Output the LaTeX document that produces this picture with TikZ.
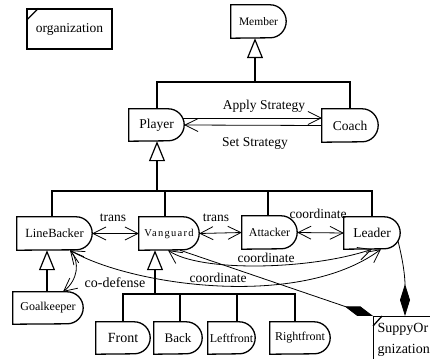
\documentclass[tikz,border=0pt]{standalone}
\usepackage{fontspec}
\setmainfont{Liberation Serif}
\usetikzlibrary{arrows.meta}
\newcommand\fsz[1]{\fontsize{#1}{#1}\selectfont}
\newcommand\dout[2][16]{\draw[dline] (#2.north west) -- ([xshift=-16pt]#2.north east) arc[start angle=90,end angle=-90,x radius=16pt,y radius=#1pt] -- (#2.south west) -- cycle;}
\tikzset{
  dbox/.style={draw=none, inner sep=0pt, minimum height=32pt},
  rect/.style={draw, line width=1.3pt, inner sep=0pt},
  dline/.style={line width=1.3pt},
  gline/.style={line width=2pt},
  gen/.style={line width=2pt, {Triangle[open,length=20pt,width=16pt,line width=1.2pt]}-},
  assoc/.style={line width=0.8pt},
  barb/.tip={Straight Barb[length=13pt,width=13pt,line width=0.8pt]},
  lbl/.style={inner sep=0pt, font=\fsz{13.5}},
}
\begin{document}
\begin{tikzpicture}[x=1pt,y=-1pt]
\useasboundingbox (0,0) rectangle (430,358);
\clip (0,0) rectangle (430,358);

% class boxes
\node[rect, minimum width=85pt, minimum height=40pt, font=\fsz{13.5}] (org) at (69.5,29) {organization};
\draw[dline] ([yshift=-12pt]org.north west) -- ([xshift=12pt]org.north west);

\node[dbox, minimum width=55pt, minimum height=33pt, font=\fsz{11.5}] (Member) at (258.5,21.5) {Member};
\dout[16.5]{Member}
\node[dbox, minimum width=55pt, font=\fsz{13.5}] (Player) at (156.5,125) {Player};
\dout{Player}
\node[dbox, minimum width=56pt, minimum height=33pt, font=\fsz{13.5}] (Coach) at (350,125.5) {Coach};
\dout[16.5]{Coach}
\node[dbox, minimum width=75pt, minimum height=33pt, font=\fsz{12.5}] (LineBacker) at (54.5,233.5) {LineBacker};
\dout[16.5]{LineBacker}
\node[dbox, minimum width=60pt, minimum height=33pt, font=\fsz{10.5}\addfontfeature{LetterSpace=12}] (Vanguard) at (169,233.5) {Vanguard};
\dout[16.5]{Vanguard}
\node[dbox, minimum width=55pt, minimum height=33pt, font=\fsz{12}] (Attacker) at (269.5,232.5) {Attacker};
\dout[16.5]{Attacker}
\node[dbox, minimum width=56pt, font=\fsz{13.5}] (Leader) at (372,233) {Leader};
\dout{Leader}
\node[dbox, minimum width=70pt, font=\fsz{12}] (Goalkeeper) at (48,308) {Goalkeeper};
\dout{Goalkeeper}
\node[dbox, minimum width=54pt, font=\fsz{14}] (Front) at (123,338) {Front};
\dout{Front}
\node[dbox, minimum width=48pt, font=\fsz{13}] (Back) at (178,338) {Back};
\dout{Back}
\node[dbox, minimum width=47pt, font=\fsz{12}] (Leftfront) at (231.5,338) {Leftfront};
\dout{Leftfront}
\node[dbox, minimum width=60pt, font=\fsz{12}] (Rightfront) at (300,338) {Rightfront};
\dout{Rightfront}

\node[rect, anchor=north west, minimum width=90pt, minimum height=46pt, inner xsep=4pt,
      text width=82pt, align=left, font=\fontsize{14}{21}\selectfont] (sup) at (373,316) {SuppyOr\\gnization};
\draw[dline] ([yshift=-10pt]sup.north west) -- ([xshift=9pt]sup.north west);

% generalization: Member
\coordinate (j1) at (255,82);
\draw[gen] (j1 |- Member.south) -- (j1);
\draw[gline] (Player.north) |- (j1) -| (Coach.north);

% generalization: Player
\coordinate (j2) at (157,191);
\draw[gen] (Player.south -| j2) -- (j2);
\draw[gline] ([xshift=-2.5pt]LineBacker.north) |- (j2) -| (Leader.north);
\draw[gline] ([xshift=-4pt]Vanguard.north) -- ([xshift=-4pt]Vanguard.north |- j2);
\draw[gline] ([xshift=-1.5pt]Attacker.north) -- ([xshift=-1.5pt]Attacker.north |- j2);

% generalization: Vanguard
\coordinate (j3) at (155,294);
\draw[gen] (Vanguard.south -| j3) -- (j3);
\draw[gline] (Front.north) |- (j3) -| ([xshift=-5pt]Rightfront.north);
\draw[gline] ([xshift=2pt]Back.north) -- ([xshift=2pt]Back.north |- j3);
\draw[gline] ([xshift=5.5pt]Leftfront.north) -- ([xshift=5.5pt]Leftfront.north |- j3);

% generalization: LineBacker
\draw[gen] ([xshift=-7.5pt]LineBacker.south) -- ([xshift=-7.5pt]LineBacker.south |- Goalkeeper.north);

% associations
\draw[assoc,-barb] ([xshift=-1.5pt,yshift=7pt]Player.east) -- ([yshift=7.5pt]Coach.west);
\draw[assoc,-barb] (Coach.west) -- (Player.east);
\node[lbl] (apply) at (264,106) {Apply Strategy};
\node[lbl] (set) at (255,143) {Set Strategy};

\draw[assoc,barb-barb] (LineBacker.east) -- (Vanguard.west);
\draw[assoc,barb-barb] (Vanguard.east) -- (Attacker.west);
\draw[assoc,barb-barb] (Attacker.east) -- (Leader.west);
\node[lbl] (tr1) at (113,218) {trans};
\node[lbl] (tr2) at (216,218) {trans};
\node[lbl] (co1) at (318,214) {coordinate};

\draw[assoc,barb-barb] ([xshift=15.5pt]LineBacker.south) .. controls +(10,12) and +(15,-12) .. ([xshift=15pt]Goalkeeper.north);
\node[lbl, font=\fsz{14}] (cd) at (115,283) {co-defense};

\draw[assoc,barb-barb] ([xshift=15.5pt]LineBacker.south) .. controls +(60,35) and +(-82,61) .. ([xshift=9pt]Leader.south);
\node[lbl] (co3) at (218,278) {coordinate};

\draw[assoc,barb-barb] ([xshift=-1pt]Vanguard.south) .. controls +(32,22) and +(-62,21) .. (Leader.south);
\node[lbl] (co2) at (266,258) {coordinate};

\draw[assoc,-{Diamond[length=30pt,width=10pt]}] ([xshift=11pt]Vanguard.south) -- (sup.north west);
\draw[assoc,-{Diamond[length=32pt,width=10pt]}] ([xshift=26pt,yshift=-8pt]Leader.center) .. controls +(5,20) and +(0,-40) .. ([xshift=32pt]sup.north west);
\end{tikzpicture}
\end{document}
